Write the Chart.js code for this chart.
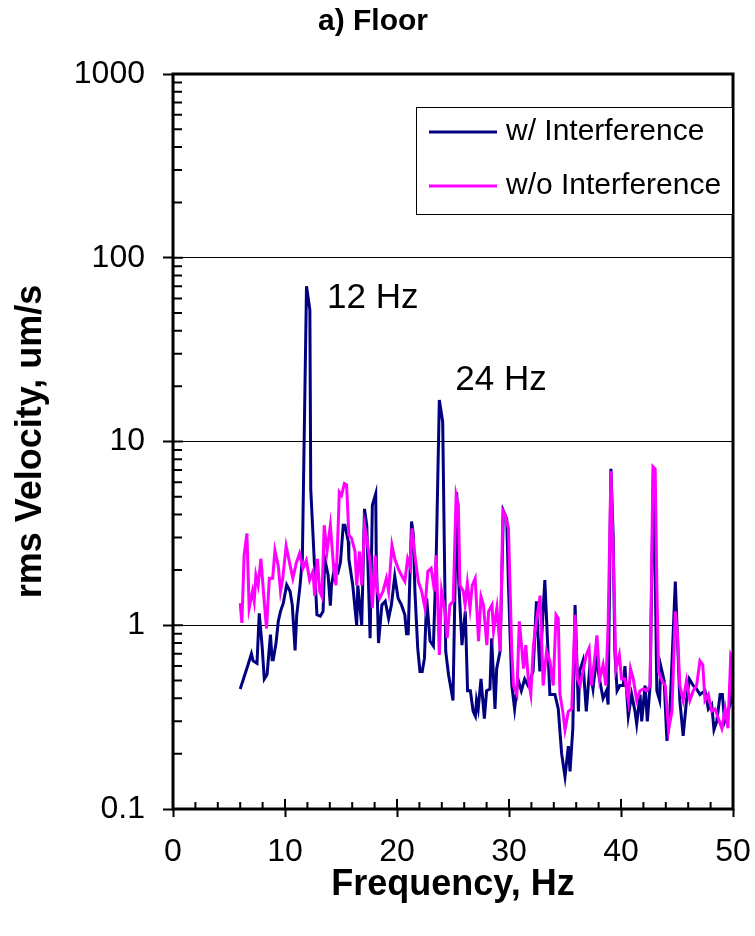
<!DOCTYPE html>
<html>
<head>
<meta charset="utf-8">
<title>a) Floor</title>
<script src="https://cdn.jsdelivr.net/npm/chart.js@4.4.1/dist/chart.umd.min.js"></script>
<style>
  html, body { margin: 0; padding: 0; background: #fff; }
  #wrap { width: 755px; height: 936px; }
</style>
</head>
<body>
<div id="wrap"><canvas id="floorChart" width="755" height="936"></canvas></div>
<script>
// Frequency (Hz) and rms velocity (um/s)
const withFreq = [6.0, 6.7, 7.0, 7.15, 7.5, 7.7, 7.95, 8.15, 8.4, 8.7,
  8.85, 8.95, 9.2, 9.4, 9.6, 9.85, 10.15, 10.45, 10.65, 10.9,
  11.05, 11.35, 11.55, 11.92, 12.22, 12.3, 12.85, 13.15, 13.4, 13.55,
  13.85, 14.05, 14.15, 14.45, 14.75, 14.95, 15.2, 15.35, 15.65, 15.7,
  16.05, 16.4, 16.5, 16.85, 17.1, 17.3, 17.6, 17.8, 18.1, 18.15,
  18.35, 18.65, 18.95, 19.25, 19.5, 19.8, 20.1, 20.4, 20.7, 20.85,
  21.0, 21.3, 21.45, 21.6, 21.85, 22.05, 22.25, 22.45, 22.65, 22.95,
  23.25, 23.5, 23.78, 24.08, 24.35, 24.6, 25.0, 25.33, 25.5, 25.8,
  26.1, 26.3, 26.55, 26.8, 27.0, 27.1, 27.25, 27.5, 27.8, 28.0,
  28.3, 28.45, 28.75, 28.9, 29.2, 29.5, 29.8, 29.95, 30.25, 30.5,
  30.8, 31.1, 31.4, 31.7, 32.15, 32.45, 32.75, 33.2, 33.35, 33.65,
  34.1, 34.4, 34.7, 35.0, 35.3, 35.45, 35.7, 35.9, 36.2, 36.3,
  36.6, 36.9, 37.2, 37.5, 37.8, 38.1, 38.4, 38.7, 38.85, 39.1,
  39.3, 39.45, 39.65, 39.9, 40.2, 40.35, 40.65, 40.95, 41.25, 41.4,
  41.7, 41.85, 42.15, 42.35, 42.6, 42.9, 43.05, 43.2, 43.45, 43.55,
  43.85, 44.1, 44.35, 44.85, 44.95, 45.25, 45.55, 45.85, 46.1, 46.45,
  46.75, 47.05, 47.5, 47.8, 48.1, 48.3, 48.55, 48.85, 49.05, 49.25,
  49.55, 49.85, 50.0];
const withVel = [0.45, 0.61, 0.70, 0.64, 0.62, 1.16, 0.78, 0.51, 0.54, 0.89,
  0.65, 0.65, 0.80, 1.05, 1.19, 1.32, 1.66, 1.53, 1.29, 0.73,
  1.14, 1.66, 2.3, 70, 52, 5.5, 1.14, 1.12, 1.19, 2.3,
  1.87, 1.28, 1.65, 2.1, 1.96, 2.2, 3.5, 3.5, 2.86, 2.3,
  1.65, 1.0, 1.65, 1.0, 4.3, 3.5, 0.85, 4.5, 5.2, 2.3,
  0.8, 1.29, 1.35, 1.09, 1.29, 1.85, 1.4, 1.29, 1.14, 0.9,
  0.9, 3.67, 3.16, 1.53, 0.75, 0.56, 0.56, 0.66, 1.4, 0.82,
  0.77, 2.3, 16.8, 12.8, 0.72, 0.54, 0.39, 5.3, 1.8, 0.78,
  1.19, 0.44, 0.44, 0.34, 0.32, 0.39, 0.35, 0.51, 0.31, 0.44,
  0.45, 0.85, 0.35, 0.58, 0.72, 4.2, 3.8, 1.65, 0.47, 0.35,
  0.51, 0.44, 0.51, 0.47, 0.56, 1.35, 0.56, 1.76, 1.09, 0.42,
  0.42, 0.35, 0.20, 0.15, 0.22, 0.16, 0.275, 1.29, 0.34, 0.56,
  0.64, 0.34, 0.58, 0.45, 0.66, 0.50, 0.40, 0.44, 0.37, 7.1,
  3.1, 0.72, 0.44, 0.47, 0.47, 0.60, 0.32, 0.42, 0.34, 0.29,
  0.42, 0.30, 0.47, 0.30, 0.47, 7.1, 2.04, 0.44, 0.39, 0.60,
  0.50, 0.235, 0.32, 1.73, 1.19, 0.39, 0.25, 0.39, 0.51, 0.47,
  0.45, 0.42, 0.44, 0.35, 0.37, 0.27, 0.30, 0.42, 0.42, 0.30,
  0.34, 0.39, 0.6];

const withoutFreq = [6.0, 6.15, 6.35, 6.6, 6.8, 7.1, 7.25, 7.4, 7.6, 7.85,
  8.1, 8.35, 8.6, 8.9, 9.1, 9.4, 9.6, 9.8, 10.1, 10.4,
  10.7, 11.0, 11.3, 11.6, 11.9, 12.2, 12.5, 12.65, 12.9, 13.1,
  13.3, 13.5, 13.75, 14.05, 14.35, 14.55, 14.75, 14.85, 15.05, 15.3,
  15.5, 15.7, 15.95, 16.25, 16.4, 16.65, 16.85, 17.1, 17.3, 17.6,
  17.8, 18.05, 18.25, 18.45, 18.75, 19.05, 19.25, 19.55, 19.8, 20.1,
  20.4, 20.7, 20.95, 21.15, 21.35, 21.6, 21.9, 22.2, 22.5, 22.75,
  23.05, 23.35, 23.5, 23.78, 23.98, 24.28, 24.48, 24.72, 25.02, 25.28,
  25.48, 25.62, 25.92, 26.08, 26.28, 26.52, 26.72, 26.98, 27.28, 27.5,
  27.72, 28.02, 28.18, 28.48, 28.62, 28.92, 29.22, 29.45, 29.65, 29.95,
  30.25, 30.4, 30.7, 30.92, 31.3, 31.5, 31.72, 31.95, 32.18, 32.48,
  32.78, 33.05, 33.35, 33.65, 33.95, 34.2, 34.4, 34.55, 34.8, 35.0,
  35.3, 35.6, 35.9, 36.1, 36.35, 36.6, 36.9, 37.15, 37.35, 37.65,
  37.85, 38.1, 38.4, 38.65, 38.85, 39.1, 39.3, 39.55, 39.85, 40.05,
  40.35, 40.65, 40.85, 41.1, 41.4, 41.7, 42.0, 42.3, 42.6, 42.85,
  43.05, 43.2, 43.35, 43.65, 43.95, 44.25, 44.55, 44.85, 45.05, 45.25,
  45.55, 45.85, 46.15, 46.45, 46.75, 47.05, 47.3, 47.5, 47.8, 48.1,
  48.4, 48.7, 49.0, 49.3, 49.55, 49.8, 49.95, 50.0];
const withoutVel = [1.32, 1.03, 2.4, 3.16, 1.24, 1.53, 1.35, 1.87, 1.65, 2.3,
  1.45, 0.96, 1.8, 1.8, 2.55, 2.1, 1.53, 1.8, 2.7, 2.2,
  1.8, 2.17, 2.46, 2.04, 2.25, 1.76, 1.96, 1.45, 2.3, 1.53,
  1.43, 3.5, 2.52, 3.5, 2.04, 1.65, 3.5, 5.3, 5.1, 5.9,
  5.8, 3.1, 2.97, 2.52, 1.65, 2.52, 1.65, 3.5, 2.97, 2.2,
  1.24, 2.4, 1.53, 1.4, 1.53, 1.8, 1.53, 2.73, 2.3, 2.04,
  1.87, 1.73, 2.3, 2.1, 3.37, 2.4, 1.73, 1.53, 1.24, 1.96,
  2.04, 1.53, 2.4, 0.69, 1.53, 1.19, 0.85, 1.29, 1.35, 5.1,
  4.5, 1.65, 1.53, 1.29, 1.69, 1.24, 1.65, 1.8, 0.82, 1.43,
  1.29, 0.78, 1.19, 1.29, 0.93, 1.24, 0.72, 4.2, 4.0, 3.37,
  0.72, 0.47, 0.42, 1.05, 0.58, 0.78, 0.51, 0.42, 0.78, 1.09,
  1.45, 0.47, 0.72, 0.64, 0.47, 1.14, 1.09, 0.42, 0.34, 0.27,
  0.34, 0.35, 1.14, 0.51, 0.47, 0.56, 0.69, 0.75, 0.47, 0.66,
  0.88, 0.51, 0.61, 0.47, 1.0, 6.9, 2.52, 0.58, 0.69, 0.51,
  0.51, 0.39, 0.58, 0.51, 0.39, 0.44, 0.45, 0.44, 0.47, 7.3,
  7.1, 1.65, 0.56, 0.50, 0.47, 0.27, 0.34, 1.19, 0.88, 0.47,
  0.39, 0.50, 0.39, 0.44, 0.47, 0.64, 0.61, 0.39, 0.42, 0.34,
  0.35, 0.31, 0.275, 0.35, 0.275, 0.69, 0.66, 0.4];

// axis ticks
const xTickValues = [0, 2, 4, 6, 8, 10, 12, 14, 16, 18, 20, 22, 24, 26, 28, 30,
  32, 34, 36, 38, 40, 42, 44, 46, 48, 50];
const yDecades = [0.1, 1, 10, 100, 1000];
const yMinorSteps = [2, 3, 4, 5, 6, 7, 8, 9];

// peak labels, anchored in data units (Hz, um/s)
const peakNotes = [
  { text: '12 Hz', x: 13.76, y: 60 },
  { text: '24 Hz', x: 25.2, y: 21.4 }
];

const FONT = '"Liberation Sans", Arial, sans-serif';

function toPoints(xs, ys) {
  return xs.map((f, i) => ({ x: f, y: ys[i] }));
}

function isDecade(v) {
  const l = Math.log10(v);
  return Math.abs(l - Math.round(l)) < 1e-6;
}

const yTickValues = [];
yDecades.forEach((d, i) => {
  yTickValues.push(d);
  if (i < yDecades.length - 1) yMinorSteps.forEach(m => yTickValues.push(d * m));
});

/* inner tick marks plus the plot frame */
const frameAndTicks = {
  id: 'frameAndTicks',
  afterDatasetsDraw(chart) {
    const { ctx, chartArea: a, scales: { x, y } } = chart;
    ctx.save();
    ctx.strokeStyle = '#000';
    ctx.lineWidth = 2;
    ctx.beginPath();
    x.ticks.forEach(t => {
      const px = x.getPixelForValue(t.value);
      const len = t.value % 10 === 0 ? 10 : 7;
      ctx.moveTo(px, a.bottom);
      ctx.lineTo(px, a.bottom - len);
    });
    y.ticks.forEach(t => {
      const py = y.getPixelForValue(t.value);
      const len = isDecade(t.value) ? 10 : 9;
      ctx.moveTo(a.left, py);
      ctx.lineTo(a.left + len, py);
    });
    ctx.stroke();
    ctx.lineWidth = 3;
    ctx.strokeRect(a.left, a.top, a.right - a.left, a.bottom - a.top);
    ctx.restore();
  }
};

/* peak annotations */
const peakLabels = {
  id: 'peakLabels',
  afterDatasetsDraw(chart) {
    const { ctx, scales: { x, y } } = chart;
    ctx.save();
    ctx.fillStyle = '#000';
    ctx.font = '35px ' + FONT;
    ctx.textAlign = 'left';
    ctx.textBaseline = 'middle';
    peakNotes.forEach(n => {
      ctx.fillText(n.text, x.getPixelForValue(n.x), y.getPixelForValue(n.y));
    });
    ctx.restore();
  }
};

/* boxed legend in the upper right of the plot */
const boxLegend = {
  id: 'boxLegend',
  afterDraw(chart) {
    const { ctx, chartArea: a } = chart;
    const right = a.right, left = right - 317, top = a.top + 33, bottom = top + 108;
    ctx.save();
    ctx.fillStyle = '#fff';
    ctx.fillRect(left, top, right - left, bottom - top);
    ctx.strokeStyle = '#000';
    ctx.lineWidth = 1;
    ctx.strokeRect(left + 0.5, top + 0.5, right - left - 1, bottom - top - 1);
    ctx.font = '30px ' + FONT;
    ctx.textAlign = 'left';
    ctx.textBaseline = 'middle';
    chart.data.datasets.forEach((ds, i) => {
      const ly = top + 25 + i * 54;
      ctx.strokeStyle = ds.borderColor;
      ctx.lineWidth = 3;
      ctx.beginPath();
      ctx.moveTo(left + 13, ly);
      ctx.lineTo(left + 81, ly);
      ctx.stroke();
      ctx.fillStyle = '#000';
      ctx.fillText(ds.label, left + 90, ly);
    });
    ctx.restore();
  }
};

const canvas = document.getElementById('floorChart');
new Chart(canvas.getContext('2d'), {
  type: 'line',
  data: {
    datasets: [{
      label: 'w/ Interference',
      data: toPoints(withFreq, withVel),
      borderColor: '#000080',
      borderWidth: 3,
      pointRadius: 0,
      tension: 0,
      order: 2
    }, {
      label: 'w/o Interference',
      data: toPoints(withoutFreq, withoutVel),
      borderColor: '#FF00FF',
      borderWidth: 3,
      pointRadius: 0,
      tension: 0,
      order: 1
    }]
  },
  options: {
    responsive: false,
    animation: false,
    devicePixelRatio: 1,
    layout: { padding: { left: 0, right: 9, top: 0, bottom: 0 } },
    plugins: {
      legend: { display: false },
      tooltip: { enabled: false },
      title: {
        display: true,
        text: 'a) Floor',
        color: '#000',
        font: { family: FONT, size: 30, weight: 'bold' },
        padding: { top: 4, bottom: 34 }
      }
    },
    scales: {
      x: {
        type: 'linear',
        position: 'bottom',
        min: 0,
        max: 50,
        afterBuildTicks: s => { s.ticks = xTickValues.map(v => ({ value: v })); },
        afterFit: s => { s.height = 127; s.paddingRight = 22; },
        border: { display: false },
        grid: {
          drawOnChartArea: false,
          drawTicks: true,
          tickLength: 8,
          tickWidth: 2,
          tickColor: c => (c.tick && c.tick.value % 10 === 0) ? '#000' : 'rgba(0,0,0,0)'
        },
        ticks: {
          autoSkip: false,
          maxRotation: 0,
          padding: 16,
          color: '#000',
          font: { family: FONT, size: 32 },
          callback: v => (v % 10 === 0 ? String(v) : '')
        },
        title: {
          display: true,
          text: 'Frequency, Hz',
          color: '#000',
          font: { family: FONT, size: 36, weight: 'bold' },
          padding: { top: 0, bottom: 29 }
        }
      },
      y: {
        type: 'logarithmic',
        position: 'left',
        min: 0.1,
        max: 1000,
        afterBuildTicks: s => { s.ticks = yTickValues.map(v => ({ value: v })); },
        afterFit: s => { s.width = 173; },
        border: { display: false },
        grid: {
          drawOnChartArea: true,
          lineWidth: 1,
          color: c => (c.tick && isDecade(c.tick.value)) ? '#000' : 'rgba(0,0,0,0)',
          drawTicks: true,
          tickLength: 10,
          tickWidth: 2,
          tickColor: c => (c.tick && isDecade(c.tick.value)) ? '#000' : 'rgba(0,0,0,0)'
        },
        ticks: {
          autoSkip: false,
          padding: 18,
          color: '#000',
          font: { family: FONT, size: 32 },
          callback: v => (isDecade(v) ? String(v) : '')
        },
        title: {
          display: true,
          text: 'rms Velocity, um/s',
          color: '#000',
          font: { family: FONT, size: 36, weight: 'bold' },
          padding: { top: 9, bottom: 0 }
        }
      }
    }
  },
  plugins: [frameAndTicks, peakLabels, boxLegend]
});
</script>
</body>
</html>
